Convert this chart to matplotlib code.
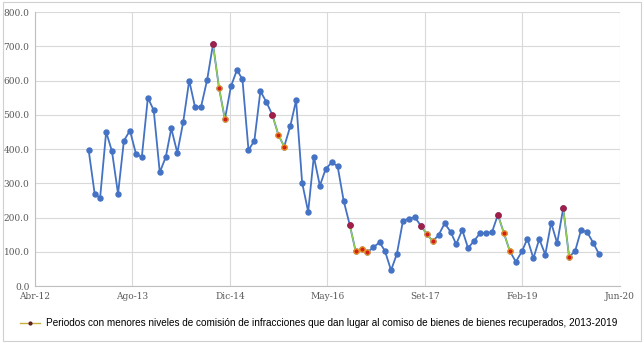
import datetime as dt
import matplotlib
matplotlib.use("Agg")
import matplotlib.pyplot as plt
import matplotlib.dates as mdates
from matplotlib.patches import Rectangle
from matplotlib.lines import Line2D

# monthly values, Jan 2013 onwards
valores = [398, 270, 257, 450, 393, 269, 424, 454, 386, 377,
           550, 513, 332, 377, 460, 389, 478, 600, 522, 524,
           602, 706, 578, 487, 583, 631, 603, 397, 424, 569,
           538, 500, 442, 407, 466, 542, 302, 217, 378, 293,
           342, 361, 350, 249, 179, 103, 108, 99, 113, 128,
           102, 46, 94, 190, 197, 201, 176, 152, 131, 149,
           183, 158, 122, 164, 111, 132, 154, 154, 158, 208,
           154, 102, 71, 101, 138, 81, 137, 92, 185, 125,
           228, 85, 102, 163, 158, 127, 95]

# highlighted periods (first index, last index)
periodos = [(21, 23), (31, 33), (44, 47), (56, 58), (69, 71), (80, 81)]

tick_labels = ["Abr-12", "Ago-13", "Dic-14", "May-16", "Set-17", "Feb-19", "Jun-20"]
y_ticks = [0, 100, 200, 300, 400, 500, 600, 700, 800]

leyenda = ("Periodos con menores niveles de comisión de infracciones que dan lugar "
           "al comiso de bienes de bienes recuperados, 2013-2019")

fechas = []
for i in range(len(valores)):
    y, m = 2013 + i // 12, i % 12 + 1
    fechas.append(dt.date(y, m, 1))

inicio = dt.date(2012, 4, 1)
tick_dates = [inicio + dt.timedelta(days=500 * k) for k in range(len(tick_labels))]

fig = plt.figure(figsize=(6.44, 3.43), dpi=100)
fig.patches.append(Rectangle((0.004, 0.006), 0.992, 0.988, transform=fig.transFigure,
                             fill=False, edgecolor="#D0D0D0", linewidth=0.8))
ax = fig.add_axes([0.0543, 0.166, 0.9084, 0.799])

blue = "#4472C4"
ax.plot(fechas, valores, color=blue, linewidth=1.3, marker="o", markersize=3.6,
        markerfacecolor=blue, markeredgecolor=blue, zorder=3)

for a, b in periodos:
    ax.plot(fechas[a:b + 1], valores[a:b + 1], color="#92D050", linewidth=1.0, zorder=4)
    ax.plot(fechas[a], valores[a], marker="o", markersize=3.8, color="#A01F48",
            markeredgecolor="#A01F48", linestyle="none", zorder=5)
    ax.plot(fechas[a + 1:b + 1], valores[a + 1:b + 1], marker="o", markersize=3.8,
            linestyle="none", markerfacecolor="#D0201A", markeredgecolor="#F0A020",
            markeredgewidth=0.8, zorder=5)

ax.set_xlim(mdates.date2num(tick_dates[0]), mdates.date2num(tick_dates[-1]))
ax.set_ylim(0, 800)
ax.set_xticks([mdates.date2num(d) for d in tick_dates])
ax.set_xticklabels(tick_labels)
ax.set_yticks(y_ticks)
ax.set_yticklabels([f"{v:.1f}" for v in y_ticks])
ax.tick_params(length=0, labelsize=6.5, labelcolor="#595959", pad=4)
for lab in ax.get_xticklabels() + ax.get_yticklabels():
    lab.set_family("DejaVu Serif")

ax.grid(True, color="#D9D9D9", linewidth=0.8)
ax.set_axisbelow(True)
for side in ["top", "right"]:
    ax.spines[side].set_visible(False)
for side in ["left", "bottom"]:
    ax.spines[side].set_color("#BFBFBF")
    ax.spines[side].set_linewidth(0.8)

handle = Line2D([], [], color="#C8B040", linewidth=1.0, marker="o", markersize=2,
                markerfacecolor="#602020", markeredgecolor="#602020")
fig.legend([handle], [leyenda], loc="center", bbox_to_anchor=(0.495, 0.058), frameon=False,
           prop={"family": "Liberation Sans", "size": 7.2}, handlelength=2.0,
           handletextpad=0.6)

fig.savefig("out.png", dpi=100)
